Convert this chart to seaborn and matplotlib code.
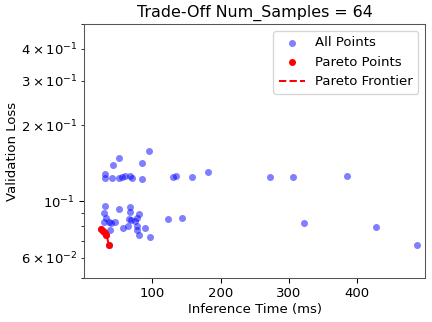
import numpy as np
import pandas as pd
import matplotlib
matplotlib.use("Agg")
import matplotlib.pyplot as plt
import seaborn as sns

# inference time (ms) and validation loss for every trial
all_time = [30.5, 31.5, 42.7, 41.7, 50.9, 50.9, 55.3, 60.7, 67.1, 71.0,
            84.7, 84.7, 95.9, 130.0, 134.0, 158.8, 181.8, 272.5, 305.2, 384.8,
            31.0, 29.0, 32.0, 30.0, 36.0, 40.3, 45.2, 37.8, 51.0, 57.8,
            67.1, 67.1, 66.6, 68.5, 65.2, 74.5, 77.4, 81.3, 77.0, 78.0,
            81.3, 89.5, 97.3, 123.7, 143.7, 321.9, 427.3, 487.3,
            25.6, 28.0, 30.5, 32.9, 36.7]
all_loss = [0.128, 0.1237, 0.1389, 0.1233, 0.1484, 0.124, 0.125, 0.1256, 0.1256, 0.1233,
            0.1414, 0.123, 0.1578, 0.1248, 0.1263, 0.1248, 0.1303, 0.1252, 0.1248, 0.1256,
            0.0955, 0.0897, 0.0859, 0.0828, 0.0826, 0.082, 0.0826, 0.0772, 0.0932, 0.0782,
            0.0949, 0.0907, 0.0856, 0.0846, 0.0801, 0.0834, 0.0862, 0.0891, 0.0801, 0.0768,
            0.0736, 0.0787, 0.0724, 0.0854, 0.0857, 0.0823, 0.0791, 0.0671,
            0.078, 0.0762, 0.0748, 0.0738, 0.0672]

# pareto-optimal trials
pareto_time = [25.6, 28.0, 30.5, 32.9, 36.7]
pareto_loss = [0.078, 0.0762, 0.0748, 0.0738, 0.0672]

num_samples = 64

df_all = pd.DataFrame({"time": all_time, "loss": all_loss})
df_pareto = pd.DataFrame({"time": pareto_time, "loss": pareto_loss})

sns.set_style("ticks")
plt.rcParams["font.family"] = ["DejaVu Sans"]
plt.rcParams["font.size"] = 10
for key in ["text.color", "axes.labelcolor", "xtick.color", "ytick.color"]:
    plt.rcParams[key] = "black"

DPI = 95
fig, ax = plt.subplots(figsize=(432 / DPI, 322 / DPI), dpi=DPI)
fig.subplots_adjust(left=0.195, right=0.984, top=0.9245, bottom=0.1376)

sns.scatterplot(data=df_all, x="time", y="loss", color="blue", alpha=0.5,
                s=28, linewidth=0, label="All Points", ax=ax)
sns.scatterplot(data=df_pareto, x="time", y="loss", color="red",
                s=28, linewidth=0, label="Pareto Points", ax=ax)
sns.lineplot(data=df_pareto, x="time", y="loss", color="red", linestyle="--",
             linewidth=1.5, estimator=None, sort=True, label="Pareto Frontier", ax=ax)

ax.set_yscale("log")
ax.set_ylim(0.05, 0.5)
ax.set_xlim(0.5, 499)
ax.tick_params(labelsize=10, length=3.5, pad=3.5)
ax.set_xlabel("Inference Time (ms)", fontsize=10, labelpad=2)
ax.set_ylabel("Validation Loss", fontsize=10, labelpad=1.5)
ax.set_title(f"Trade-Off Num_Samples = {num_samples}", fontsize=12)
ax.legend(loc="upper right", fontsize=10)
for sp in ax.spines.values():
    sp.set_color("#555555")

fig.savefig("out.png", dpi=DPI)
